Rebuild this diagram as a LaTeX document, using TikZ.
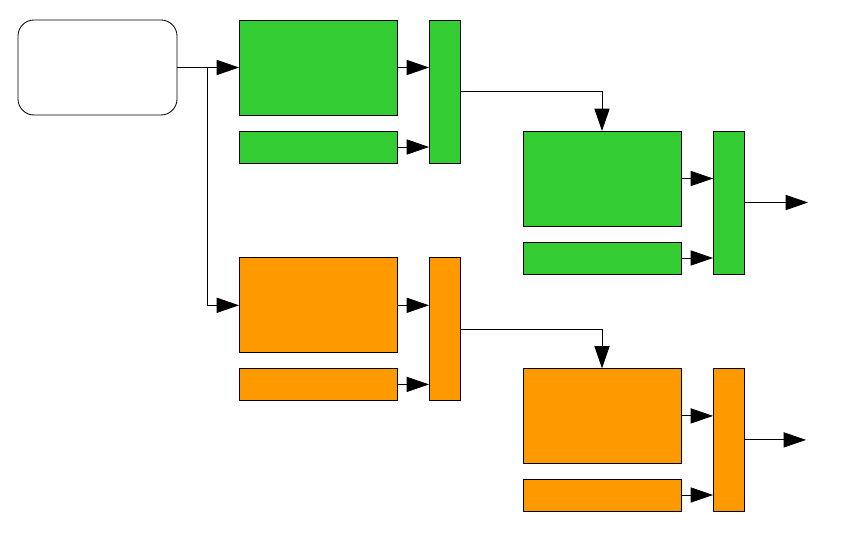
\documentclass[tikz,border=0pt]{standalone}
\usepackage{tikz}
\usetikzlibrary{arrows.meta,positioning,calc}
\definecolor{grn}{RGB}{51,204,51}
\definecolor{org}{RGB}{255,153,0}
\tikzset{
  rb/.style={rectangle,draw,rounded corners=0.4cm,fill=white,minimum width=3.975cm,minimum height=2.375cm,outer sep=0pt,line width=0.6pt},
  big/.style={rectangle,draw,minimum width=3.95cm,minimum height=2.375cm,outer sep=0pt,line width=0.6pt},
  sm/.style={rectangle,draw,minimum width=3.95cm,minimum height=0.8cm,outer sep=0pt,line width=0.6pt},
  bar/.style={rectangle,draw,minimum width=0.775cm,minimum height=3.575cm,outer sep=0pt,line width=0.6pt},
  arr/.style={-{Triangle[length=0.56cm,width=0.38cm]},line width=0.6pt},
}
\begin{document}
\begin{tikzpicture}[inner sep=0pt]
  \useasboundingbox (0,0) rectangle (21.225,-13.575);
  \node[rb,anchor=north west] (src) at (0.45,-0.5) {};
  % upper group
  \node[big,fill=grn,right=1.55cm of src] (a1) {};
  \node[sm,fill=grn,below=0.4cm of a1] (a2) {};
  \node[bar,fill=grn,right=0.8cm of a1.north east,anchor=north west] (a3) {};
  \node[big,fill=grn,anchor=north west] (c1) at ($(a3.east|-a2.north)+(1.575,0)$) {};
  \node[sm,fill=grn,below=0.4cm of c1] (c2) {};
  \node[bar,fill=grn,right=0.8cm of c1.north east,anchor=north west] (c3) {};
  % lower group
  \node[big,fill=org,below=2.37cm of a2] (b1) {};
  \node[sm,fill=org,below=0.39cm of b1] (b2) {};
  \node[bar,fill=org,right=0.8cm of b1.north east,anchor=north west] (b3) {};
  \node[big,fill=org,anchor=north west] (d1) at ($(b3.east|-b2.north)+(1.575,0)$) {};
  \node[sm,fill=org,below=0.39cm of d1] (d2) {};
  \node[bar,fill=org,right=0.8cm of d1.north east,anchor=north west] (d3) {};
  \coordinate[right=0.75cm of src.east] (fork);
  \coordinate[right=1.6cm of c3.east] (outc);
  \coordinate[right=1.55cm of d3.east] (outd);
  \draw[arr] (src) -- (a1); \draw[arr] (fork) |- (b1);
  \draw[arr] (a1.east) -- (a1.east-|a3.west); \draw[arr] (a2.east) -- (a2.east-|a3.west);
  \draw[arr] (b1.east) -- (b1.east-|b3.west); \draw[arr] (b2.east) -- (b2.east-|b3.west);
  \draw[arr] (c1.east) -- (c1.east-|c3.west); \draw[arr] (c2.east) -- (c2.east-|c3.west);
  \draw[arr] (d1.east) -- (d1.east-|d3.west); \draw[arr] (d2.east) -- (d2.east-|d3.west);
  \draw[arr] (a3.east) -| (c1.north); \draw[arr] (b3.east) -| (d1.north);
  \draw[arr] (c3.east) -- (outc); \draw[arr] (d3.east) -- (outd);
\end{tikzpicture}
\end{document}
